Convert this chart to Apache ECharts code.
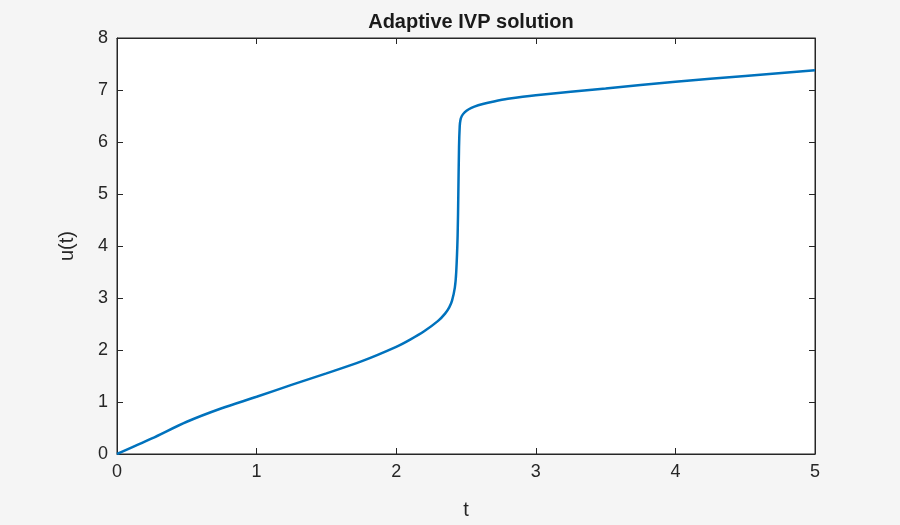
<!DOCTYPE html>
<html><head><meta charset="utf-8">
<script src="https://cdn.jsdelivr.net/npm/echarts@6/dist/echarts.min.js"></script>
<style>html,body{margin:0;background:#f5f5f5}#c{width:900px;height:525px}</style>
</head><body><div id="c"></div>
<script>
var tVals = [0, 0.25, 0.5, 0.75, 1, 1.25, 1.5, 1.75, 2, 2.1, 2.2, 2.3, 2.35, 2.38, 2.4, 2.42, 2.43, 2.44, 2.445, 2.45, 2.455, 2.46, 2.47, 2.49, 2.52, 2.56, 2.62, 2.7, 2.8, 3, 3.5, 4, 4.5, 5];
var uVals = [0, 0.3, 0.62, 0.88, 1.1, 1.33, 1.55, 1.78, 2.06, 2.2, 2.36, 2.56, 2.7, 2.82, 2.95, 3.2, 3.5, 4.2, 5.0, 5.9, 6.3, 6.42, 6.5, 6.57, 6.63, 6.68, 6.73, 6.78, 6.83, 6.9, 7.03, 7.16, 7.27, 7.38];
var xTicks = [0, 1, 2, 3, 4, 5];
var yTicks = [0, 1, 2, 3, 4, 5, 6, 7, 8];

var pts = [];
for (var i = 0; i < tVals.length; i++) pts.push([tVals[i], uVals[i]]);

var font = 'Helvetica, "Liberation Sans", Arial, sans-serif';
var chart = echarts.init(document.getElementById('c'));
function ax(show, pos, name, extra) {
	var o = {
		type: 'value', position: pos, min: 0, interval: 1,
		axisLine: {show: true, onZero: false, lineStyle: {color: '#262626', width: 1}},
		axisTick: {show: true, inside: true, length: 6, lineStyle: {color: '#262626'}},
		splitLine: {show: false},
		axisLabel: {show: show, color: '#262626', fontSize: 18, fontFamily: font, margin: 9},
		name: show ? name : '', nameLocation: 'middle',
		nameTextStyle: {color: '#262626', fontSize: 20, fontFamily: font}
	};
	for (var k in extra) o[k] = extra[k];
	return o;
}
chart.setOption({
	backgroundColor: '#f5f5f5',
	title: {text: 'Adaptive IVP solution', left: 466, top: 7, textAlign: 'center',
		textStyle: {fontSize: 20, fontWeight: 'bold', color: '#1a1a1a', fontFamily: font}},
	grid: {left: 117, right: 85, top: 38, bottom: 69, show: true, backgroundColor: '#fff', borderColor: '#262626'},
	xAxis: [ax(true, 'bottom', 't', {max: 5, nameGap: 46}), ax(false, 'top', '', {max: 5})],
	yAxis: [ax(true, 'left', 'u(t)', {max: 8, nameGap: 40}), ax(false, 'right', '', {max: 8})],
	series: [{type: 'line', data: pts, showSymbol: false, smooth: 0.3,
		lineStyle: {color: '#0072BD', width: 2.5}}]
});
</script></body></html>
